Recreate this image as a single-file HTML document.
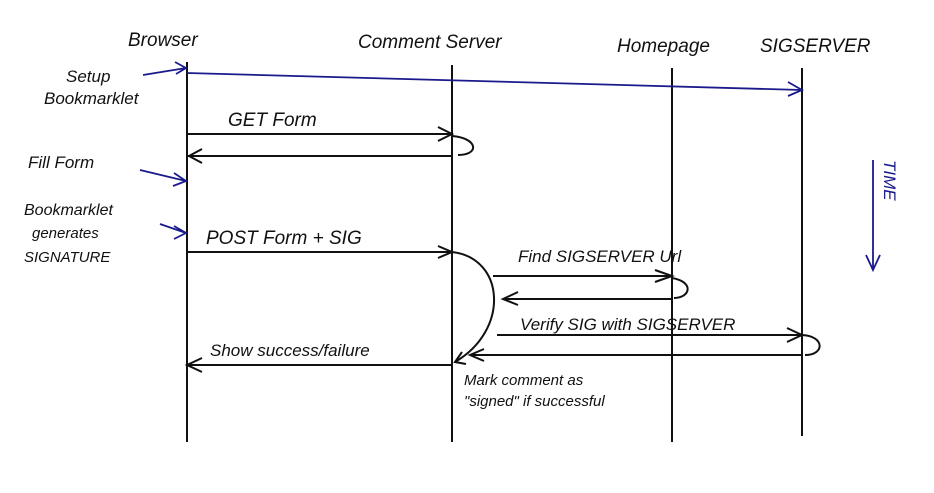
<!DOCTYPE html>
<html><head><style>
html,body{margin:0;padding:0;background:#fff}
svg text{font-family:"Liberation Sans",sans-serif;font-style:italic;fill:#111}
</style></head><body>
<svg width="934" height="488" viewBox="0 0 934 488" xmlns="http://www.w3.org/2000/svg">
<g stroke="#111" stroke-width="2" fill="none">
<line x1="187" y1="62" x2="187" y2="442"/>
<line x1="452" y1="65" x2="452" y2="442"/>
<line x1="672" y1="68" x2="672" y2="442"/>
<line x1="802" y1="68" x2="802" y2="436"/>
<!-- GET form -->
<line x1="187" y1="134" x2="452" y2="134"/>
<polyline points="438,127 452,134 438,141"/>
<path d="M452,136 C478,138 480,155 458,155"/>
<line x1="187" y1="156" x2="452" y2="156"/>
<polyline points="202,149 189,156 202,163"/>
<!-- POST -->
<line x1="187" y1="252" x2="452" y2="252"/>
<polyline points="438,246 452,252 438,258"/>
<path d="M452,252 C505,258 510,330 455,362"/>
<polyline points="462,352 455,362 466,364"/>
<!-- Find -->
<line x1="493" y1="276" x2="672" y2="276"/>
<polyline points="655,270 672,276 655,282"/>
<path d="M672,278 C695,282 690,298 674,298"/>
<line x1="503" y1="299" x2="672" y2="299"/>
<polyline points="518,292 503,299 518,305"/>
<!-- Verify -->
<line x1="497" y1="335" x2="802" y2="335"/>
<polyline points="787,328 802,335 787,342"/>
<path d="M802,335 C825,336 825,355 805,355"/>
<line x1="470" y1="355" x2="802" y2="355"/>
<polyline points="484,349 470,355 484,361"/>
<!-- show success -->
<line x1="187" y1="365" x2="452" y2="365"/>
<polyline points="202,358 187,365 202,372"/>
</g>
<g stroke="#1a1a8c" stroke-width="1.8" fill="none">
<line x1="187" y1="73" x2="802" y2="90"/>
<polyline points="788,82 802,90 788,96"/>
<line x1="143" y1="75" x2="186" y2="68"/>
<polyline points="175,62 186,68 176,74"/>
<line x1="140" y1="170" x2="186" y2="181"/>
<polyline points="174,173 186,181 173,186"/>
<line x1="160" y1="224" x2="186" y2="233"/>
<polyline points="174,226 186,233 174,239"/>
<line x1="873" y1="160" x2="873" y2="270"/>
<polyline points="866,255 873,270 880,255"/>
</g>
<g font-size="19">
<text x="128" y="46">Browser</text>
<text x="358" y="48">Comment Server</text>
<text x="617" y="52">Homepage</text>
<text x="760" y="52">SIGSERVER</text>
<text x="228" y="126">GET Form</text>
<text x="206" y="244">POST Form + SIG</text>
<text x="518" y="262" font-size="17">Find SIGSERVER Url</text>
<text x="520" y="330" font-size="17">Verify SIG with SIGSERVER</text>
<text x="210" y="356" font-size="17">Show success/failure</text>
<text x="464" y="385" font-size="15">Mark comment as</text>
<text x="464" y="406" font-size="15">"signed" if successful</text>
</g>
<g font-size="17">
<text x="66" y="82">Setup</text>
<text x="44" y="104">Bookmarklet</text>
<text x="28" y="168">Fill Form</text>
<text x="24" y="215" font-size="16">Bookmarklet</text>
<text x="32" y="238" font-size="15">generates</text>
<text x="24" y="262" font-size="15">SIGNATURE</text>
</g>
<text x="0" y="0" font-size="17" fill="#1a1a8c" style="fill:#1a1a8c" transform="translate(884,160) rotate(90)">TIME</text>
</svg>
</body></html>
